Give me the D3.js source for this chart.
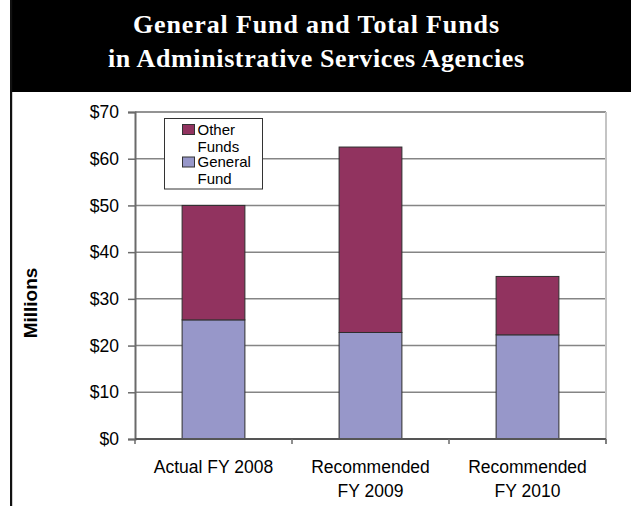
<!DOCTYPE html>
<html>
<head>
<meta charset="utf-8">
<script src="https://cdn.jsdelivr.net/npm/d3@7"></script>
<style>
  html, body { margin: 0; padding: 0; background: #fff; }
  svg { display: block; }
</style>
</head>
<body>
<svg id="chart" width="631" height="506"></svg>
<script>
// Chart data
const categories = ["Actual FY 2008", "Recommended FY 2009", "Recommended FY 2010"];
const categoryLines = [["Actual FY 2008"], ["Recommended", "FY 2009"], ["Recommended", "FY 2010"]];
const generalFund = [25.5, 22.8, 22.3];
const otherFunds = [24.5, 39.7, 12.5];
const seriesNames = ["General Fund", "Other Funds"];
const yTicks = [0, 10, 20, 30, 40, 50, 60, 70];
const titleLines = ["General Fund and Total Funds", "in Administrative Services Agencies"];

const colors = { "General Fund": "#9797c9", "Other Funds": "#91335f" };

const svg = d3.select("#chart");
const W = 631, H = 506;
const plot = { left: 135, right: 606, top: 112, bottom: 439 };

// Header band with title
svg.append("rect").attr("x", 10).attr("y", 0).attr("width", W - 10).attr("height", 92).attr("fill", "#000");
svg.append("rect").attr("x", 10).attr("y", 0).attr("width", 2.2).attr("height", H).attr("fill", "#111");

const titleWidths = [366, 416];
svg.selectAll("text.title").data(titleLines).join("text")
  .attr("class", "title")
  .attr("x", 316)
  .attr("y", (d, i) => 33 + i * 34)
  .attr("text-anchor", "middle")
  .attr("fill", "#fff")
  .attr("font-family", "'Liberation Serif', 'DejaVu Serif', serif")
  .attr("font-weight", "bold")
  .attr("font-size", 26)
  .attr("textLength", (d, i) => titleWidths[i])
  .attr("lengthAdjust", "spacing")
  .text(d => d);

// Scales
const x = d3.scaleBand().domain(categories).range([plot.left, plot.right])
  .paddingInner(0.6).paddingOuter(0.3);
const y = d3.scaleLinear().domain([0, 70]).range([plot.bottom, plot.top]);

// Gridlines
svg.append("g").selectAll("line").data(yTicks.filter(v => v > 0)).join("line")
  .attr("x1", plot.left).attr("x2", plot.right)
  .attr("y1", d => y(d)).attr("y2", d => y(d))
  .attr("stroke", d => d === 70 ? "#6f6f6f" : "#858585")
  .attr("stroke-width", 1.5);

// Right border of plot area
svg.append("line")
  .attr("x1", plot.right).attr("x2", plot.right)
  .attr("y1", plot.top).attr("y2", plot.bottom + 5)
  .attr("stroke", "#c4c4c4").attr("stroke-width", 2);

// Stacked bars
const stackData = categories.map((c, i) => ({ cat: c, "General Fund": generalFund[i], "Other Funds": otherFunds[i] }));
const stack = d3.stack().keys(seriesNames)(stackData);

svg.append("g").selectAll("g").data(stack).join("g")
  .attr("fill", d => colors[d.key])
  .selectAll("rect").data(d => d).join("rect")
  .attr("x", d => x(d.data.cat))
  .attr("width", x.bandwidth())
  .attr("y", d => y(d[1]))
  .attr("height", d => y(d[0]) - y(d[1]))
  .attr("stroke", "#2e2e2e")
  .attr("stroke-width", 1);

// Y axis
const yAxis = d3.axisLeft(y).tickValues(yTicks).tickFormat(d => "$" + d).tickSize(7).tickPadding(9);
const yg = svg.append("g").attr("transform", `translate(${plot.left},0)`).call(yAxis);
yg.select(".domain").attr("stroke", "#6a6a6a").attr("stroke-width", 2);
yg.selectAll(".tick line").attr("stroke", "#6a6a6a").attr("stroke-width", 1.5);
yg.selectAll(".tick text")
  .attr("font-family", "Arial, 'Liberation Sans', sans-serif")
  .attr("font-size", 17.5).attr("fill", "#000");

// X axis line and category separator ticks
svg.append("line")
  .attr("x1", plot.left).attr("x2", plot.right)
  .attr("y1", plot.bottom).attr("y2", plot.bottom)
  .attr("stroke", "#555").attr("stroke-width", 2);
const step = x.step();
svg.append("g").selectAll("line").data(d3.range(categories.length + 1)).join("line")
  .attr("x1", i => plot.left + i * step).attr("x2", i => plot.left + i * step)
  .attr("y1", plot.bottom).attr("y2", plot.bottom + 5)
  .attr("stroke", "#6a6a6a").attr("stroke-width", 1.5);

// Category labels
const xl = svg.append("g").selectAll("text").data(categories).join("text")
  .attr("x", d => x(d) + x.bandwidth() / 2)
  .attr("y", 473)
  .attr("text-anchor", "middle")
  .attr("font-family", "Arial, 'Liberation Sans', sans-serif")
  .attr("font-size", 17.5).attr("fill", "#000");
xl.selectAll("tspan").data((d, i) => categoryLines[i]).join("tspan")
  .attr("x", function () { return d3.select(this.parentNode).attr("x"); })
  .attr("dy", (d, i) => i === 0 ? 0 : 24)
  .text(d => d);

// Y axis title
svg.append("text")
  .attr("transform", "translate(37,303) rotate(-90)")
  .attr("text-anchor", "middle")
  .attr("font-family", "Arial, 'Liberation Sans', sans-serif")
  .attr("font-weight", "bold")
  .attr("font-size", 19).attr("fill", "#000")
  .text("Millions");

// Legend
const lg = svg.append("g");
lg.append("rect").attr("x", 164.5).attr("y", 118.5).attr("width", 98).attr("height", 70.5)
  .attr("fill", "#fff").attr("stroke", "#333").attr("stroke-width", 1);
const legendItems = [
  { key: "Other Funds", lines: ["Other", "Funds"] },
  { key: "General Fund", lines: ["General", "Fund"] }
];
legendItems.forEach((item, i) => {
  const top = 124 + i * 32.5;
  lg.append("rect").attr("x", 182.5).attr("y", top + 0.5).attr("width", 12).attr("height", 10)
    .attr("fill", colors[item.key]).attr("stroke", "#333").attr("stroke-width", 1);
  const t = lg.append("text")
    .attr("font-family", "Arial, 'Liberation Sans', sans-serif")
    .attr("font-size", 15).attr("fill", "#000");
  item.lines.forEach((ln, j) => {
    t.append("tspan").attr("x", 197.5).attr("y", top + 10.5 + j * 17).text(ln);
  });
});
</script>
</body>
</html>
